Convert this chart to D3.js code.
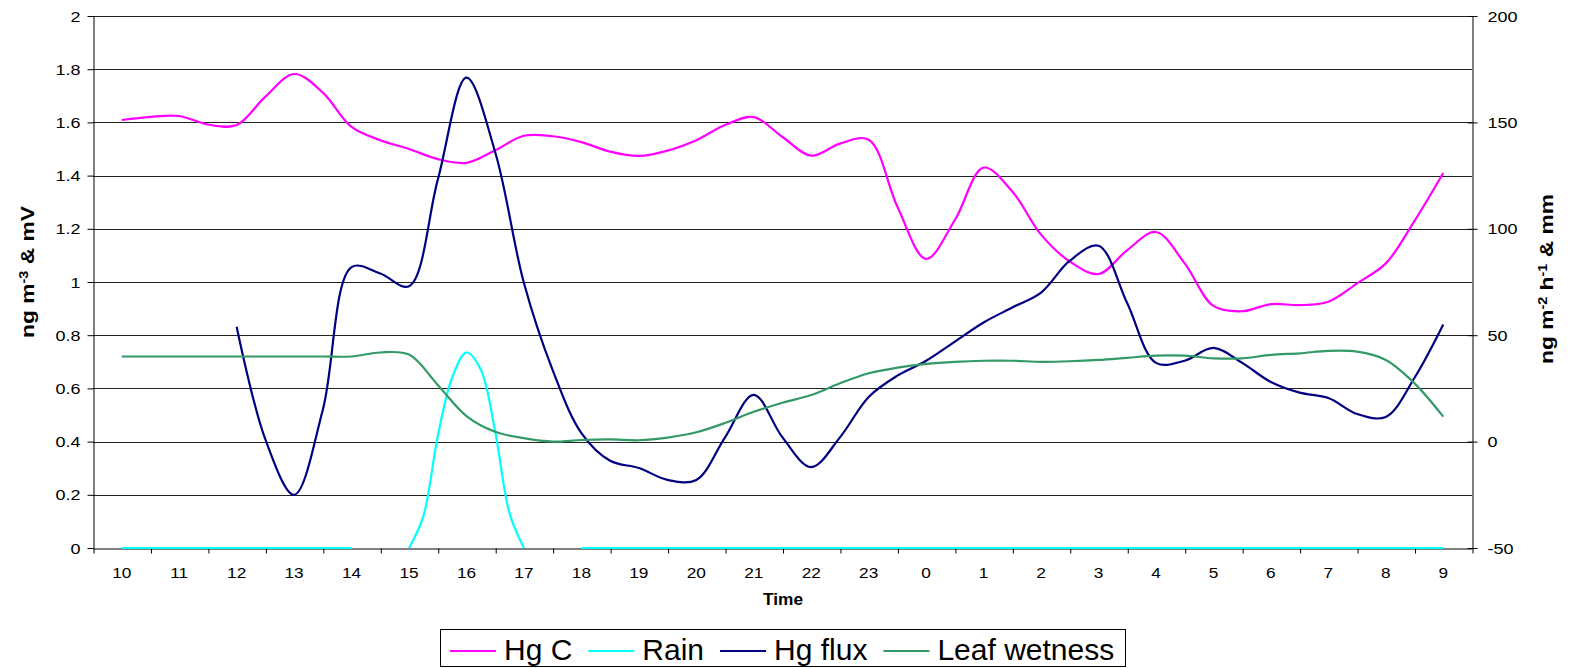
<!DOCTYPE html>
<html lang="en">

<head>
    <meta charset="UTF-8">
    <title>Hg C, Rain, Hg flux and Leaf wetness</title>
    <script src="https://cdn.jsdelivr.net/npm/d3@7"></script>

    <style type="text/css">
        body {
            margin: 0;
            background: #fff;
        }

        svg text {
            font-family: "Liberation Sans", Arial, sans-serif;
            fill: #000;
        }
    </style>
</head>

<body>
    <svg width="1569" height="668"></svg>

    <script type="text/javascript">
        // hour labels on the x axis, readings every half hour
        var hours = ["10", "11", "12", "13", "14", "15", "16", "17", "18", "19", "20", "21", "22", "23",
            "0", "1", "2", "3", "4", "5", "6", "7", "8", "9"];
        var step = 0.5;

        // ng m-3 (left axis)
        var hgC = [1.609, 1.621, 1.624, 1.592, 1.59, 1.697, 1.782, 1.712, 1.583, 1.533,
            1.5, 1.462, 1.448, 1.495, 1.55, 1.548, 1.526, 1.49, 1.474, 1.494,
            1.533, 1.59, 1.62, 1.545, 1.475, 1.52, 1.535, 1.283, 1.087, 1.233,
            1.43, 1.34, 1.178, 1.077, 1.03, 1.12, 1.188, 1.07, 0.91, 0.89,
            0.917, 0.913, 0.926, 0.995, 1.07, 1.23, 1.41];

        // rain (left axis), logged finer during the shower, null = no reading
        var rainTime = [0, 1, 2, 3, 4, 4.5, 5, 5.25, 5.5, 5.75, 6, 6.25, 6.5, 6.75, 7, 7.5,
            8, 9, 10, 11, 12, 13, 14, 15, 16, 17, 18, 19, 20, 21, 22, 23];
        var rain = [0, 0, 0, 0, 0, null, 0, 0.12, 0.42, 0.64, 0.735, 0.67, 0.437, 0.13, 0, null,
            0, 0, 0, 0, 0, 0, 0, 0, 0, 0, 0, 0, 0, 0, 0, 0];

        // ng m-2 h-1 (right axis)
        var hgFlux = [null, null, null, null, 54, 1, -25, 15, 82, 79,
            73, 123, 171, 136, 74.5, 33.6, 4, -9, -12.4, -18,
            -18, 2, 22, 2, -12, 2, 21, 31, 38, 47,
            56, 63, 70, 85, 92, 65, 37, 38, 44, 37,
            28, 23, 20.5, 13, 11.6, 30, 55];

        // mV (left axis)
        var leafWetness = [0.72, 0.72, 0.72, 0.72, 0.72, 0.72, 0.72, 0.72, 0.72, 0.735,
            0.727, 0.613, 0.496, 0.437, 0.413, 0.4, 0.406, 0.408, 0.405, 0.415,
            0.435, 0.47, 0.512, 0.546, 0.575, 0.619, 0.657, 0.678, 0.692, 0.7,
            0.704, 0.704, 0.7, 0.702, 0.707, 0.715, 0.723, 0.723, 0.713, 0.713,
            0.726, 0.732, 0.741, 0.738, 0.707, 0.619, 0.494];

        var leftTicks = [0, 0.2, 0.4, 0.6, 0.8, 1, 1.2, 1.4, 1.6, 1.8, 2];
        var rightTicks = [-50, 0, 50, 100, 150, 200];

        var halfHours = hgC.map(function(d, i) { return i * step; });

        var series = [
            { name: "Hg C", times: halfHours, values: hgC, axis: "left", color: "#ff00ff" },
            { name: "Rain", times: rainTime, values: rain, axis: "left", color: "#00ffff" },
            { name: "Hg flux", times: halfHours, values: hgFlux, axis: "right", color: "#000080" },
            { name: "Leaf wetness", times: halfHours, values: leafWetness, axis: "left", color: "#339966" }
        ];

        (function() {
            var svg = d3.select("svg");
            var left = 93, right = 1472, top = 16, bottom = 548;

            var x = d3.scaleLinear().domain([-0.5, hours.length - 0.5]).range([left, right]);
            var yLeft = d3.scaleLinear().domain([0, 2]).range([bottom, top]);
            var yRight = d3.scaleLinear().domain([-50, 200]).range([bottom, top]);

            var fmt = function(d) { return String(+d.toFixed(1)); };

            // gridlines
            svg.append("g")
                .selectAll("line")
                .data(leftTicks.slice(1))
                .enter().append("line")
                .attr("x1", left).attr("x2", right)
                .attr("y1", function(d) { return Math.round(yLeft(d)) + 0.5; })
                .attr("y2", function(d) { return Math.round(yLeft(d)) + 0.5; })
                .attr("stroke", "#222")
                .attr("stroke-width", 1);

            // left axis
            var gl = svg.append("g")
                .attr("transform", "translate(" + (left + 0.5) + ",0)")
                .call(d3.axisLeft(yLeft).tickValues(leftTicks).tickFormat(fmt).tickSize(6).tickSizeOuter(0));
            gl.selectAll("text")
                .attr("x", -13 / 1.2)
                .attr("dy", "0.34em")
                .attr("transform", "scale(1.2,1)")
                .style("font-size", "15px")
                .style("font-family", "Liberation Sans, Arial, sans-serif");

            // right axis, ticks cross the line
            var gr = svg.append("g")
                .attr("transform", "translate(" + (right + 0.5) + ",0)")
                .call(d3.axisRight(yRight).tickValues(rightTicks).tickFormat(fmt).tickSize(5).tickSizeOuter(0));
            gr.selectAll(".tick line").attr("x1", -5);
            gr.selectAll("text")
                .attr("x", 15 / 1.2)
                .attr("dy", "0.34em")
                .attr("transform", "scale(1.2,1)")
                .style("font-size", "15px")
                .style("font-family", "Liberation Sans, Arial, sans-serif");

            // x axis: ticks between the hours, labels on the hours
            var gx = svg.append("g")
                .attr("transform", "translate(0," + (bottom + 0.5) + ")")
                .call(d3.axisBottom(x).tickValues(d3.range(-0.5, hours.length, 1)).tickFormat("").tickSize(5).tickSizeOuter(0));
            gx.selectAll(".tick line").attr("transform", "translate(0.5,0)");

            svg.append("g")
                .selectAll("text")
                .data(hours)
                .enter().append("text")
                .attr("transform", function(d, i) { return "translate(" + x(i) + ",578) scale(1.15,1)"; })
                .attr("text-anchor", "middle")
                .style("font-size", "15px")
                .text(function(d) { return d; });

            svg.selectAll(".domain, .tick line").attr("stroke", "#000");

            // axis titles
            svg.append("text")
                .attr("transform", "translate(783,605) scale(1.08,1)")
                .attr("text-anchor", "middle")
                .style("font-size", "16px")
                .style("font-weight", "bold")
                .text("Time");

            var lt = svg.append("text")
                .attr("transform", "translate(34,272) rotate(-90) scale(1.2,1)")
                .attr("text-anchor", "middle")
                .style("font-size", "19px")
                .style("font-weight", "bold");
            lt.append("tspan").text("ng m");
            lt.append("tspan").attr("baseline-shift", "super").style("font-size", "12px").text("-3");
            lt.append("tspan").text(" & mV");

            var rt = svg.append("text")
                .attr("transform", "translate(1553,279) rotate(-90) scale(1.2,1)")
                .attr("text-anchor", "middle")
                .style("font-size", "19px")
                .style("font-weight", "bold");
            rt.append("tspan").text("ng m");
            rt.append("tspan").attr("baseline-shift", "super").style("font-size", "12px").text("-2");
            rt.append("tspan").text(" h");
            rt.append("tspan").attr("baseline-shift", "super").style("font-size", "12px").text("-1");
            rt.append("tspan").text(" & mm");

            // series lines
            series.forEach(function(s) {
                var y = s.axis == "left" ? yLeft : yRight;
                var line = d3.line()
                    .defined(function(d) { return d != null; })
                    .x(function(d, i) { return x(s.times[i]); })
                    .y(function(d) { return y(d); })
                    .curve(d3.curveCatmullRom);
                svg.append("path")
                    .datum(s.values)
                    .attr("d", line)
                    .attr("fill", "none")
                    .attr("stroke", s.color)
                    .attr("stroke-width", 2.2)
                    .attr("stroke-linejoin", "round");
            });

            // legend
            var lg = svg.append("g");
            lg.append("rect")
                .attr("x", 440.5).attr("y", 629.5)
                .attr("width", 685).attr("height", 37)
                .attr("fill", "#fff")
                .attr("stroke", "#000");
            var lx = 450;
            series.forEach(function(s) {
                lg.append("line")
                    .attr("x1", lx).attr("x2", lx + 46)
                    .attr("y1", 651).attr("y2", 651)
                    .attr("stroke", s.color)
                    .attr("stroke-width", 2.2);
                var t = lg.append("text")
                    .attr("x", lx + 54)
                    .attr("y", 660)
                    .style("font-size", "30px")
                    .text(s.name);
                lx += 54 + t.node().getComputedTextLength() + 16;
            });
        })();
    </script>

</body>

</html>
